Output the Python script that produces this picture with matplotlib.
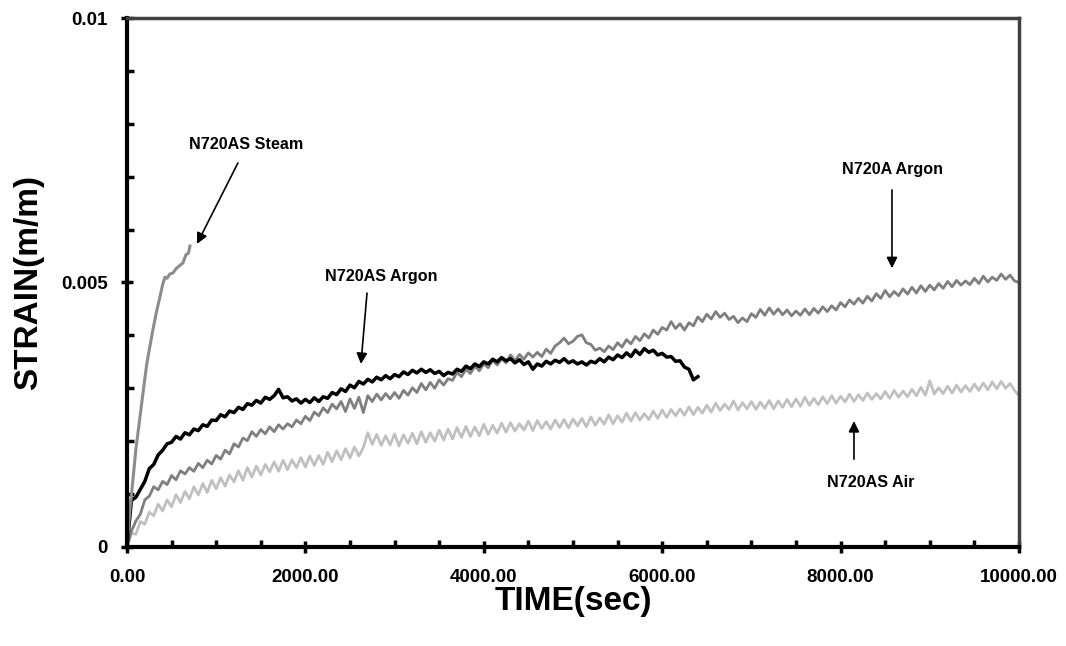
import matplotlib
matplotlib.use('Agg')
import matplotlib.pyplot as plt
from matplotlib.ticker import MultipleLocator, FixedLocator
import numpy as np

plt.rcParams['font.family'] = ['Liberation Sans', 'DejaVu Sans']
plt.rcParams['font.weight'] = 'bold'

# strain values are in units of 1e-4 m/m, sampled every 50 s unless given
STEP = 50

steam_time = [0, 30, 67, 100, 146, 190, 224, 260, 290, 330, 370, 400, 426, 450,
              480, 516, 550, 590, 628, 660, 690, 706]
steam_strain = [0, 6.5, 12.7, 18.5, 24.6, 30.5, 34.8, 38.2, 41.0, 44.4, 47.3, 49.6,
                51.0, 50.8, 51.6, 51.8, 52.6, 53.2, 53.7, 55.2, 55.6, 56.9]

as_argon_strain = [
    0.0, 8.8, 9.4, 10.9, 12.4, 14.8, 15.6, 17.4, 18.3, 19.5, 19.8, 20.9, 20.4, 21.6,
    21.2, 22.3, 22.0, 23.1, 22.8, 24.0, 23.9, 25.0, 24.6, 25.7, 25.4, 26.4, 26.0, 27.1,
    26.8, 27.7, 27.2, 28.3, 27.9, 28.6, 29.8, 28.2, 28.4, 27.6, 28.0, 27.2, 27.9, 27.3,
    28.2, 27.5, 28.4, 28.1, 29.2, 28.8, 29.9, 29.4, 30.6, 30.1, 31.3, 30.8, 31.7, 31.2,
    32.1, 31.6, 32.4, 31.8, 32.6, 32.2, 33.1, 32.6, 33.4, 32.9, 33.6, 33.0, 33.5, 32.8,
    33.2, 32.4, 33.0, 32.7, 33.6, 33.2, 34.2, 33.7, 34.6, 34.1, 35.0, 34.6, 35.5, 35.0,
    35.8, 35.2, 35.6, 34.8, 35.4, 34.5, 35.0, 33.6, 34.6, 34.2, 35.1, 34.6, 35.3, 34.9,
    35.6, 34.8, 35.2, 34.6, 35.0, 34.4, 35.1, 34.8, 35.6, 35.0, 35.9, 35.4, 36.3, 35.8,
    36.7, 36.0, 37.2, 36.4, 37.5, 36.8, 37.2, 36.3, 36.6, 35.9, 36.0, 35.1, 35.2, 34.0,
    33.6, 31.6, 32.2]

a_argon_strain = [
    0.0, 3.0, 4.9, 6.2, 8.9, 9.6, 11.4, 10.8, 12.4, 11.8, 13.5, 12.7, 14.4, 13.8,
    15.0, 14.3, 15.8, 15.0, 16.4, 15.7, 17.3, 16.6, 18.3, 17.6, 19.5, 18.9, 20.6, 20.1,
    21.8, 20.9, 22.2, 21.4, 22.7, 21.8, 23.1, 22.3, 23.3, 22.7, 24.0, 23.3, 24.7, 23.9,
    25.5, 24.8, 26.3, 25.4, 27.0, 26.1, 27.5, 25.6, 28.0, 26.2, 28.3, 25.4, 28.6, 27.5,
    28.9, 27.8, 29.0, 28.0, 29.2, 28.1, 29.6, 28.7, 30.1, 29.2, 30.9, 29.7, 31.1, 30.0,
    31.6, 30.6, 31.8, 31.5, 33.0, 32.2, 33.6, 32.8, 34.2, 33.3, 34.6, 33.9, 35.3, 34.4,
    35.6, 34.8, 36.3, 35.2, 36.4, 35.5, 36.7, 35.9, 36.8, 36.0, 37.4, 36.6, 38.0, 38.6,
    39.5, 38.4, 38.9, 39.8, 40.1, 38.6, 38.3, 37.2, 37.6, 36.9, 38.0, 37.3, 38.6, 37.8,
    39.2, 38.4, 39.8, 39.0, 40.3, 39.5, 41.0, 40.2, 41.5, 41.0, 42.6, 41.3, 42.2, 41.0,
    42.4, 41.8, 43.5, 42.6, 44.0, 43.1, 44.5, 43.4, 44.2, 43.0, 43.6, 42.4, 43.3, 42.6,
    44.1, 43.4, 44.9, 43.8, 45.2, 44.0, 45.0, 43.9, 44.8, 43.7, 44.6, 43.8, 45.0, 43.9,
    45.1, 44.2, 45.4, 44.5, 45.6, 44.8, 46.2, 45.4, 46.7, 45.9, 47.0, 46.1, 47.4, 46.5,
    47.9, 47.0, 48.5, 47.3, 48.3, 47.5, 48.8, 47.8, 49.1, 48.0, 49.4, 48.3, 49.5, 48.6,
    49.8, 48.9, 50.2, 49.2, 50.4, 49.5, 50.3, 49.6, 50.8, 49.8, 51.2, 50.1, 51.0, 50.4,
    51.6, 50.6, 51.4, 50.3, 50.0]

air_strain = [
    0.0, 2.6, 2.4, 4.8, 4.3, 6.6, 5.9, 8.1, 6.8, 8.9, 7.6, 9.9, 8.4, 10.5,
    9.1, 11.4, 9.8, 12.0, 10.3, 12.6, 11.0, 13.1, 11.5, 13.6, 12.3, 14.4, 12.6, 15.0,
    13.2, 15.3, 13.6, 15.6, 14.2, 16.1, 14.3, 16.4, 14.6, 16.5, 15.0, 16.9, 15.1, 17.2,
    15.4, 17.3, 15.6, 17.9, 16.1, 18.2, 16.5, 18.6, 16.8, 18.9, 17.2, 18.8, 21.6, 19.4,
    21.3, 19.2, 21.0, 19.3, 21.4, 19.1, 21.2, 19.6, 21.5, 19.5, 21.8, 19.8, 21.6, 20.0,
    22.1, 20.2, 22.3, 20.4, 22.6, 20.7, 22.8, 20.9, 22.7, 21.0, 23.2, 21.3, 23.0, 21.5,
    23.4, 21.7, 23.5, 21.9, 23.3, 22.1, 23.8, 22.0, 23.9, 22.4, 23.7, 22.3, 24.0, 22.6,
    24.1, 22.5, 24.2, 22.9, 24.3, 22.7, 24.6, 23.0, 24.4, 23.2, 25.0, 23.3, 24.8, 23.6,
    25.3, 23.8, 25.4, 24.0, 25.2, 24.1, 25.7, 24.3, 25.9, 24.5, 26.0, 24.8, 26.1, 24.9,
    26.5, 25.0, 26.4, 25.3, 26.8, 25.5, 27.2, 25.8, 27.0, 26.0, 27.6, 25.9, 27.3, 26.1,
    27.5, 26.0, 27.4, 26.2, 27.7, 26.1, 27.6, 26.4, 27.9, 26.5, 28.0, 26.6, 28.3, 26.8,
    28.1, 26.9, 28.4, 27.1, 28.6, 27.2, 28.5, 27.4, 28.9, 27.5, 28.8, 27.7, 29.1, 27.9,
    29.0, 28.0, 29.4, 28.1, 29.6, 28.3, 29.5, 28.4, 29.8, 28.6, 30.2, 28.7, 31.4, 28.9,
    30.1, 29.0, 30.4, 29.1, 30.6, 29.3, 30.5, 29.4, 30.8, 29.6, 31.0, 29.7, 31.2, 29.9,
    31.3, 30.0, 30.9, 29.6, 28.6]

labels = ['N720AS Steam', 'N720AS Argon', 'N720A Argon', 'N720AS Air']


def scaled(vals):
    return np.array(vals) * 1e-4


def sampled_time(vals):
    return np.arange(len(vals)) * STEP


fig = plt.figure(figsize=(10.66, 6.46), dpi=100)
ax = fig.add_axes([0.1191, 0.1533, 0.8368, 0.8188])

ax.plot(sampled_time(air_strain), scaled(air_strain), color='#c0c0c0', lw=2.0)
ax.plot(sampled_time(a_argon_strain), scaled(a_argon_strain), color='#7f7f7f', lw=2.0)
ax.plot(sampled_time(as_argon_strain), scaled(as_argon_strain), color='black', lw=2.5)
ax.plot(steam_time, scaled(steam_strain), color='#8c8c8c', lw=2.2)

ax.set_xlim(0, 10000)
ax.set_ylim(0, 0.01)

ax.xaxis.set_major_locator(MultipleLocator(2000))
ax.xaxis.set_minor_locator(MultipleLocator(500))
ax.xaxis.set_major_formatter(matplotlib.ticker.FormatStrFormatter('%.2f'))
ax.yaxis.set_major_locator(FixedLocator([0, 0.005, 0.01]))
ax.yaxis.set_minor_locator(MultipleLocator(0.001))
ax.set_yticklabels(['0', '0.005', '0.01'])

ax.tick_params(which='major', direction='inout', length=8, width=2.5,
               labelsize=13.5)
ax.tick_params(axis='x', which='major', pad=12)
ax.tick_params(axis='y', which='major', pad=10)
ax.tick_params(which='minor', direction='in', length=5, width=2.5)

for side in ['left', 'bottom']:
    ax.spines[side].set_linewidth(3)
    ax.spines[side].set_color('black')
for side in ['top', 'right']:
    ax.spines[side].set_linewidth(2.5)
    ax.spines[side].set_color('#404040')

ax.set_xlabel('TIME(sec)', fontsize=24, fontweight='bold', labelpad=0)
ax.set_ylabel('STRAIN(m/m)', fontsize=24, fontweight='bold', labelpad=12)

# label positions and arrows (tail -> head), in data coordinates
label_xy = [(1334, 0.0076), (2848, 0.00512), (8587, 0.00713), (8341, 0.00121)]
arrow_tail = [(1244, 0.00726), (2691, 0.0048), (8576, 0.00675), (8150, 0.00166)]
arrow_head = [(785, 0.00573), (2623, 0.00346), (8576, 0.00527), (8150, 0.00238)]

for lab, pos, tail, head in zip(labels, label_xy, arrow_tail, arrow_head):
    ax.text(pos[0], pos[1], lab, ha='center', va='center', fontsize=11.6,
            fontweight='bold')
    ax.annotate('', xy=head, xytext=tail,
                arrowprops=dict(arrowstyle='-|>', color='black', lw=1.2,
                                mutation_scale=16, shrinkA=0, shrinkB=0))

fig.savefig('out.png', dpi=100)
